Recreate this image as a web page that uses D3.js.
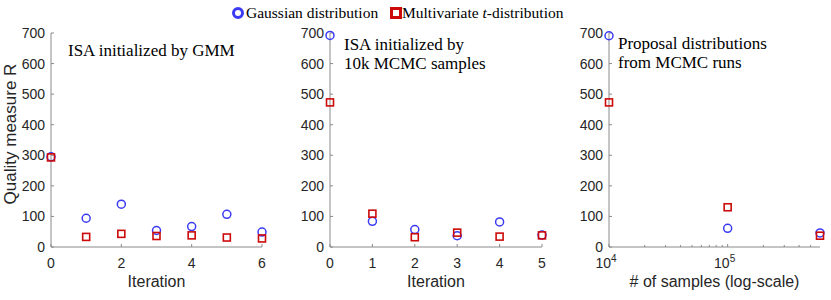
<!DOCTYPE html>
<html>
<head>
<meta charset="utf-8">
<script src="https://cdn.jsdelivr.net/npm/d3@7"></script>
<style>
  body { margin: 0; background: #fff; }
  svg text { font-family: "Liberation Sans", Arial, sans-serif; }
  svg text.serif { font-family: "Liberation Serif", "Times New Roman", serif; }
</style>
</head>
<body>
<div id="chart"></div>
<script>
// panel 1: ISA initialized by GMM
var iterGmm = [0, 1, 2, 3, 4, 5, 6];
var gaussGmm = [295, 94, 140, 54, 67, 107, 49];
var tdistGmm = [293, 33, 43, 36, 38, 31, 28];

// panel 2: ISA initialized by 10k MCMC samples
var iterMcmc = [0, 1, 2, 3, 4, 5];
var gaussMcmc = [692, 84, 57, 37, 82, 39];
var tdistMcmc = [473, 109, 32, 47, 34, 38];

// panel 3: proposal distributions from MCMC runs
var samples = [1e4, 1e5, 6e5];
var gaussRuns = [691, 61, 46];
var tdistRuns = [473, 130, 37];

var yTicks = [0, 100, 200, 300, 400, 500, 600, 700];

var blue = "#3b3bf5", red = "#cc0a0a";
var axisColor = "#8a8a8a", labelColor = "#262626";

var svg = d3.select("#chart").append("svg")
    .attr("width", 831)
    .attr("height", 300);

var yTop = 33, yBot = 247;
var y = d3.scaleLinear().domain([0, 700]).range([yBot, yTop]);

function panel(opts) {
    var g = svg.append("g");
    var x = opts.x;
    var x0 = x.range()[0], x1 = x.range()[1];

    // axis lines
    g.append("line").attr("x1", x0).attr("x2", x0).attr("y1", yTop).attr("y2", yBot)
        .attr("stroke", axisColor);
    g.append("line").attr("x1", x0).attr("x2", x1).attr("y1", yBot).attr("y2", yBot)
        .attr("stroke", axisColor);

    // y ticks (inward)
    yTicks.forEach(function (t) {
        g.append("line").attr("x1", x0).attr("x2", x0 + 3)
            .attr("y1", y(t)).attr("y2", y(t)).attr("stroke", axisColor);
        g.append("text").attr("x", x0 - 6).attr("y", y(t) + 5)
            .attr("text-anchor", "end").attr("font-size", "14px")
            .attr("fill", labelColor).text(t);
    });

    // x ticks
    opts.minor.forEach(function (t) {
        g.append("line").attr("x1", x(t)).attr("x2", x(t))
            .attr("y1", yBot).attr("y2", yBot - 2).attr("stroke", axisColor);
    });
    opts.major.forEach(function (t) {
        g.append("line").attr("x1", x(t)).attr("x2", x(t))
            .attr("y1", yBot).attr("y2", yBot - 3).attr("stroke", axisColor);
        var lab = g.append("text").attr("x", x(t)).attr("y", 268)
            .attr("text-anchor", "middle").attr("font-size", "14px")
            .attr("fill", labelColor);
        if (opts.log) {
            lab.attr("x", x(t) - 3);
            lab.append("tspan").text("10");
            lab.append("tspan").attr("font-size", "10px").attr("dy", -6)
                .text(Math.round(Math.log10(t)));
        } else {
            lab.text(t);
        }
    });

    g.append("text").attr("x", (x0 + x1) / 2).attr("y", 287)
        .attr("text-anchor", "middle").attr("font-size", "16px")
        .attr("fill", labelColor).text(opts.xlabel);

    // titles
    opts.title.forEach(function (s, i) {
        g.append("text").attr("class", "serif")
            .attr("x", opts.tx).attr("y", opts.ty + i * 19)
            .attr("font-size", "17px").attr("fill", "#000").text(s);
    });

    // markers
    g.selectAll(".circ").data(opts.xs).enter().append("circle")
        .attr("cx", function (d) { return x(d); })
        .attr("cy", function (d, i) { return y(opts.gauss[i]); })
        .attr("r", 4)
        .attr("fill", "none").attr("stroke", blue).attr("stroke-width", 1.5);
    g.selectAll(".sq").data(opts.xs).enter().append("rect")
        .attr("x", function (d) { return x(d) - 3.5; })
        .attr("y", function (d, i) { return y(opts.tdist[i]) - 3.5; })
        .attr("width", 7).attr("height", 7)
        .attr("fill", "none").attr("stroke", red).attr("stroke-width", 1.6);
}

panel({
    x: d3.scaleLinear().domain([0, 6]).range([51, 262]),
    xs: iterGmm, gauss: gaussGmm, tdist: tdistGmm,
    major: [0, 2, 4, 6], minor: [],
    xlabel: "Iteration",
    title: ["ISA initialized by GMM"], tx: 68, ty: 56
});

panel({
    x: d3.scaleLinear().domain([0, 5]).range([330, 542]),
    xs: iterMcmc, gauss: gaussMcmc, tdist: tdistMcmc,
    major: [0, 1, 2, 3, 4, 5], minor: [],
    xlabel: "Iteration",
    title: ["ISA initialized by", "10k MCMC samples"], tx: 344, ty: 50
});

panel({
    x: d3.scaleLog().domain([1e4, 6e5]).range([609, 820]),
    xs: samples, gauss: gaussRuns, tdist: tdistRuns,
    major: [1e4, 1e5],
    minor: [2e4, 3e4, 4e4, 5e4, 6e4, 7e4, 8e4, 9e4, 2e5, 3e5, 4e5, 5e5],
    log: true,
    xlabel: "# of samples (log-scale)",
    title: ["Proposal distributions", "from MCMC runs"], tx: 618, ty: 49
});

// y axis label
svg.append("text")
    .attr("transform", "translate(16,134) rotate(-90)")
    .attr("text-anchor", "middle").attr("font-size", "17px")
    .attr("fill", labelColor).text("Quality measure R");

// legend
var leg = svg.append("g");
leg.append("circle").attr("cx", 238).attr("cy", 13).attr("r", 4.5)
    .attr("fill", "none").attr("stroke", blue).attr("stroke-width", 3);
leg.append("text").attr("class", "serif").attr("x", 246).attr("y", 18)
    .attr("font-size", "15.5px").text("Gaussian distribution");
leg.append("rect").attr("x", 391.5).attr("y", 8.5).attr("width", 9).attr("height", 9)
    .attr("fill", "none").attr("stroke", red).attr("stroke-width", 3);
var t2 = leg.append("text").attr("class", "serif").attr("x", 402).attr("y", 18)
    .attr("font-size", "15.5px");
t2.append("tspan").text("Multivariate ");
t2.append("tspan").attr("font-style", "italic").text("t");
t2.append("tspan").text("-distribution");
</script>
</body>
</html>
